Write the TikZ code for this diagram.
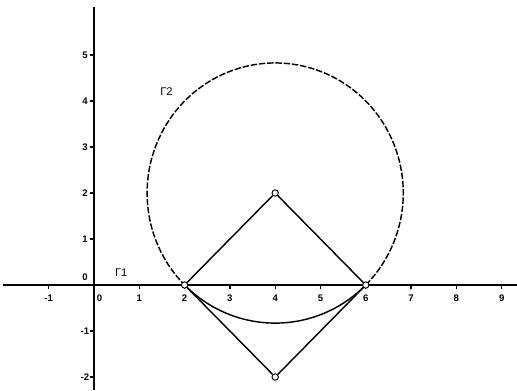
\documentclass[tikz,border=0pt]{standalone}
\usepackage{fontspec}
\setmainfont{Liberation Sans}
\begin{document}
\begin{tikzpicture}[x=1cm,y=1.0155cm,
  axis/.style={line width=1.2pt},
  seg/.style={line width=0.9pt},
  pt/.style={circle,draw,fill=white,inner sep=0pt,minimum size=4pt,line width=0.6pt},
  tick/.style={font=\fontsize{6}{7}\selectfont\bfseries,inner sep=1pt},
  lbl/.style={font=\fontsize{7}{8}\selectfont,inner sep=1pt}]
\useasboundingbox[fill=white] (-2.075,-2.283) rectangle (9.338,6.196);
% axes
\coordinate (xl) at (-2.0,0);
\coordinate (xr) at (9.33,0);
\coordinate (yb) at (0,-2.283);
\coordinate (yt) at (0,6.05);
\draw[axis] (xl) -- (xr);
\draw[axis] (yb) -- (yt);
% ticks and labels on x
\foreach \i in {-1,1,2,3,4,5,6,7,8,9}{
  \draw[line width=0.8pt] (\i,0) -- (\i,-0.08);
  \node[tick] at (\i,-0.28) {\i};
}
\node[tick] at (0.12,-0.28) {0};
% ticks and labels on y
\foreach \j in {-2,-1,1,2,3,4,5}{
  \draw[line width=0.8pt] (0,\j) -- (-0.08,\j);
  \node[tick] at (-0.2,\j) {\j};
}
\node[tick] at (-0.2,0.17) {0};
% circle
\draw[line width=0.9pt,dash pattern=on 4pt off 1.2pt] plot[domain=-45:225,samples=120] ({4+2.828*cos(\x)},{2+2.828*sin(\x)});
\draw[line width=0.9pt] plot[domain=225:315,samples=60] ({4+2.828*cos(\x)},{2+2.828*sin(\x)});
% square
\node[pt] (A) at (2,0) {};
\node[pt] (B) at (4,2) {};
\node[pt] (C) at (6,0) {};
\node[pt] (D) at (4,-2) {};
\draw[seg] (A) -- (B) -- (C) -- (D) -- (A);
% labels
\node[lbl] (g1) at (0.6,0.27) {Γ1};
\node[lbl] (g2) at (1.6,4.2) {Γ2};
\end{tikzpicture}
\end{document}
